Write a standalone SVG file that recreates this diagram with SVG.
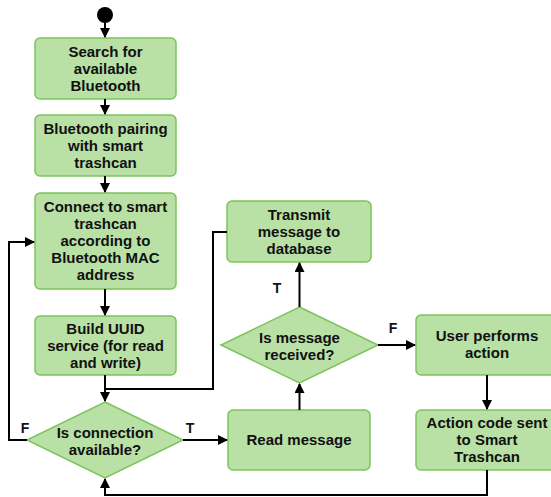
<svg xmlns="http://www.w3.org/2000/svg" width="551" height="497" viewBox="0 0 551 497">
<style>
.n{fill:#b9e0a5;stroke:#7cc35c;stroke-width:1.5}
.t{font-family:"Liberation Sans",Arial,sans-serif;font-weight:bold;font-size:15px;fill:#111;text-anchor:middle}
.c{fill:none;stroke:#000;stroke-width:2}
.l{font-family:"Liberation Sans",Arial,sans-serif;font-weight:bold;font-size:14px;fill:#111;text-anchor:middle}
</style>
<defs>
<marker id="a" viewBox="0 0 10 10" refX="9" refY="5" markerWidth="5" markerHeight="5" orient="auto" markerUnits="strokeWidth">
<path d="M0,0 L10,5 L0,10 Z" fill="#000"/>
</marker>
</defs>
<g id="start"><circle cx="105" cy="15" r="8" fill="#000"/></g>
<g id="n1"><rect class="n" x="35" y="38" width="141" height="61" rx="5"/>
<text class="t" x="105.5" y="57">Search for</text><text class="t" x="105.5" y="74">available</text><text class="t" x="105.5" y="91">Bluetooth</text></g>
<g id="n2"><rect class="n" x="35" y="115" width="141" height="61" rx="5"/>
<text class="t" x="105.5" y="134">Bluetooth pairing</text><text class="t" x="105.5" y="151">with smart</text><text class="t" x="105.5" y="168">trashcan</text></g>
<g id="n3"><rect class="n" x="35" y="193" width="141" height="96" rx="5"/>
<text class="t" x="105.5" y="212">Connect to smart</text><text class="t" x="105.5" y="229">trashcan</text><text class="t" x="105.5" y="246">according to</text><text class="t" x="105.5" y="263">Bluetooth MAC</text><text class="t" x="105.5" y="280">address</text></g>
<g id="n4"><rect class="n" x="35" y="316" width="141" height="59" rx="5"/>
<text class="t" x="105.5" y="334">Build UUID</text><text class="t" x="105.5" y="351">service (for read</text><text class="t" x="105.5" y="368">and write)</text></g>
<g id="d1"><polygon class="n" points="105,402 183,440 105,478 27,440"/>
<text class="t" x="105" y="438">Is connection</text><text class="t" x="105" y="455">available?</text></g>
<g id="n5"><rect class="n" x="228" y="410" width="142" height="60" rx="5"/>
<text class="t" x="299" y="445">Read message</text></g>
<g id="d2"><polygon class="n" points="299.5,307 378,345 299.5,383 221,345"/>
<text class="t" x="299.5" y="343">Is message</text><text class="t" x="299.5" y="360">received?</text></g>
<g id="n6"><rect class="n" x="227" y="201" width="144" height="61" rx="5"/>
<text class="t" x="299" y="220">Transmit</text><text class="t" x="299" y="237">message to</text><text class="t" x="299" y="254">database</text></g>
<g id="n7"><rect class="n" x="416" y="315" width="142" height="60" rx="5"/>
<text class="t" x="487" y="341">User performs</text><text class="t" x="487" y="358">action</text></g>
<g id="n8"><rect class="n" x="416" y="410" width="142" height="60" rx="5"/>
<text class="t" x="487" y="428">Action code sent</text><text class="t" x="487" y="445">to Smart</text><text class="t" x="487" y="462">Trashcan</text></g>
<g id="connectors">
<path class="c" d="M105,23 V37" marker-end="url(#a)"/>
<path class="c" d="M105,99 V114" marker-end="url(#a)"/>
<path class="c" d="M105,176 V192" marker-end="url(#a)"/>
<path class="c" d="M105,289 V315" marker-end="url(#a)"/>
<path class="c" d="M105,375 V401" marker-end="url(#a)"/>
<path class="c" d="M227,232 H213 V389 H105"/>
<path class="c" d="M27,440 H9 V242 H34" marker-end="url(#a)"/>
<path class="c" d="M183,440 H227" marker-end="url(#a)"/>
<path class="c" d="M299.5,410 V384" marker-end="url(#a)"/>
<path class="c" d="M299.5,307 V263" marker-end="url(#a)"/>
<path class="c" d="M378,345 H415" marker-end="url(#a)"/>
<path class="c" d="M487,375 V409" marker-end="url(#a)"/>
<path class="c" d="M487,470 V495 H105 V479" marker-end="url(#a)"/>
</g>
<g id="labels">
<text class="l" x="25" y="433">F</text>
<text class="l" x="190" y="433">T</text>
<text class="l" x="277" y="293">T</text>
<text class="l" x="393" y="333">F</text>
</g>
</svg>
